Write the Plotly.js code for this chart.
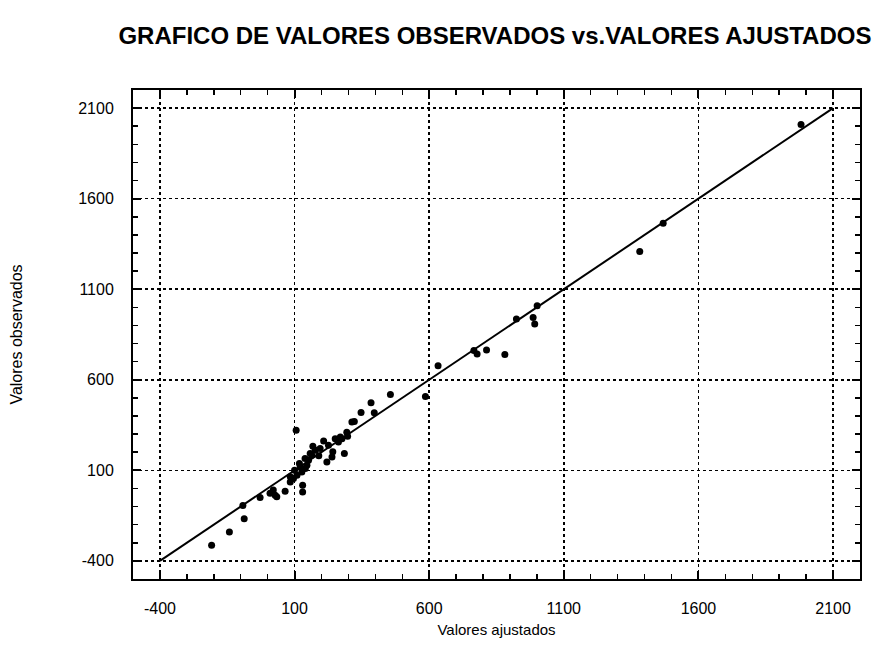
<!DOCTYPE html>
<html>
<head>
<meta charset="utf-8">
<script src="https://cdn.plot.ly/plotly-3.0.1.min.js"></script>
<style>html,body{margin:0;padding:0;background:#fff;}#chart{width:887px;height:665px;}</style>
</head>
<body>
<div id="chart"></div>
<script>
const fitted = [-208,-142,-87,-92,-28,9,28,34,65,21,84,96,109,127,84,130,130,118,139,146,158,152,164,177,168,195,208,226,263,276,297,251,270,294,313,285,239,220,242,106,322,347,396,384,456,586,633,766,778,813,881,924,986,992,1001,1382,1469,1981,121,100,140,190];
const observed = [-314,-240,-167,-94,-50,-27,-37,-46,-15,-9,36,55,73,91,64,18,-19,138,165,128,193,156,183,211,233,220,262,238,256,275,288,275,284,310,367,193,174,146,202,321,370,420,418,473,519,508,677,761,743,765,739,936,944,908,1009,1308,1464,2009,119,100,110,180];
const lineX = [-400, 2100];
const lineY = [-400, 2100];
const tickVals = [-400, 100, 600, 1100, 1600, 2100];
const tickText = ['-400', '100', '600', '1100', '1600', '2100'];

const font = 'Liberation Sans, Arial, Helvetica, sans-serif';
const axisCommon = {
  range: [-500, 2200],
  tickmode: 'array',
  tickvals: tickVals,
  ticktext: tickText,
  ticks: 'inside',
  ticklen: 8,
  tickwidth: 2,
  tickcolor: '#000',
  minor: {dtick: 100, tick0: 0, ticks: 'inside', ticklen: 5, tickwidth: 1.5, tickcolor: '#000', showgrid: false},
  showline: true,
  linecolor: '#000',
  linewidth: 2,
  mirror: 'allticks',
  showgrid: true,
  gridcolor: '#000',
  gridwidth: 1.5,
  griddash: 'dot',
  zeroline: false,
  tickfont: {family: font, size: 16, color: '#000'}
};

const data = [
  {x: lineX, y: lineY, type: 'scatter', mode: 'lines', line: {color: '#000', width: 2}, hoverinfo: 'skip'},
  {x: fitted, y: observed, type: 'scatter', mode: 'markers', marker: {color: '#000', size: 7}}
];

const layout = {
  width: 887, height: 665,
  paper_bgcolor: '#fff', plot_bgcolor: '#fff',
  showlegend: false,
  margin: {l: 133, r: 27, t: 90, b: 86},
  title: {text: 'GRAFICO DE VALORES OBSERVADOS vs.VALORES AJUSTADOS', font: {family: font, size: 24, color: '#000', weight: 'bold'}, x: 0.558, xanchor: 'center', y: 0.947, yanchor: 'middle'},
  xaxis: Object.assign({}, axisCommon, {ticklabelstandoff: 14, title: {text: 'Valores ajustados', font: {family: font, size: 15, color: '#000'}, standoff: 8}}),
  yaxis: Object.assign({}, axisCommon, {ticklabelstandoff: 14, title: {text: 'Valores observados', font: {family: font, size: 16, color: '#000'}, standoff: 52}})
};

Plotly.newPlot('chart', data, layout, {displayModeBar: false, staticPlot: true});
</script>
</body>
</html>
